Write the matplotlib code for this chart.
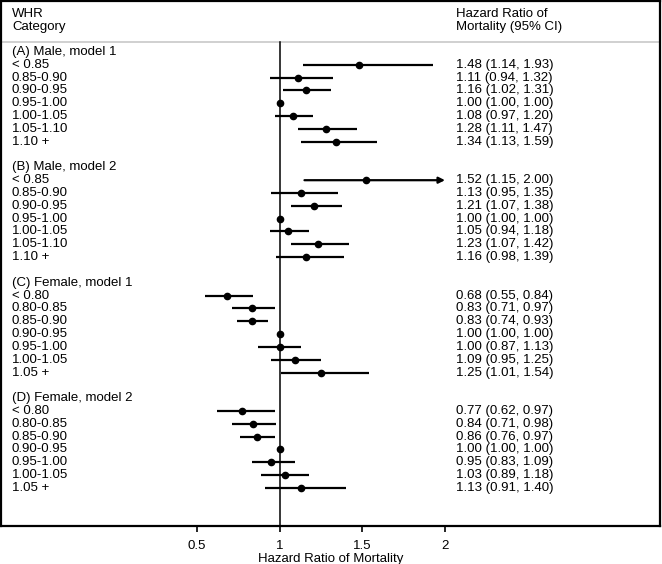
import matplotlib
matplotlib.use("Agg")
import matplotlib.pyplot as plt
import matplotlib.transforms as mtransforms

plt.rcParams['font.family'] = ['Liberation Sans', 'DejaVu Sans']

groups = ["(A) Male, model 1", "(B) Male, model 2", "(C) Female, model 1", "(D) Female, model 2"]
cats_male = ["< 0.85", "0.85-0.90", "0.90-0.95", "0.95-1.00", "1.00-1.05", "1.05-1.10", "1.10 +"]
cats_female = ["< 0.80", "0.80-0.85", "0.85-0.90", "0.90-0.95", "0.95-1.00", "1.00-1.05", "1.05 +"]
categories = [cats_male, cats_male, cats_female, cats_female]

hr_a = [1.48, 1.11, 1.16, 1.00, 1.08, 1.28, 1.34]
lo_a = [1.14, 0.94, 1.02, 1.00, 0.97, 1.11, 1.13]
hi_a = [1.93, 1.32, 1.31, 1.00, 1.20, 1.47, 1.59]

hr_b = [1.52, 1.13, 1.21, 1.00, 1.05, 1.23, 1.16]
lo_b = [1.15, 0.95, 1.07, 1.00, 0.94, 1.07, 0.98]
hi_b = [2.00, 1.35, 1.38, 1.00, 1.18, 1.42, 1.39]

hr_c = [0.68, 0.83, 0.83, 1.00, 1.00, 1.09, 1.25]
lo_c = [0.55, 0.71, 0.74, 1.00, 0.87, 0.95, 1.01]
hi_c = [0.84, 0.97, 0.93, 1.00, 1.13, 1.25, 1.54]

hr_d = [0.77, 0.84, 0.86, 1.00, 0.95, 1.03, 1.13]
lo_d = [0.62, 0.71, 0.76, 1.00, 0.83, 0.89, 0.91]
hi_d = [0.97, 0.98, 0.97, 1.00, 1.09, 1.18, 1.40]

hrs = [hr_a, hr_b, hr_c, hr_d]
los = [lo_a, lo_b, lo_c, lo_d]
his = [hi_a, hi_b, hi_c, hi_d]

xticks = [0.5, 1, 1.5, 2]
xtick_labels = ["0.5", "1", "1.5", "2"]
x_max_ci = 2.0

W, H = 662, 564
fig = plt.figure(figsize=(W / 100, H / 100), dpi=100)

# frame in pixels: left 1, right 660, top 1, bottom 526
fl, fr, ft, fb = 1, 660, 1, 526
ax = fig.add_axes([fl / W, 1 - fb / H, (fr - fl) / W, (fb - ft) / H])

scale = (445 - 197) / 1.5
ax.set_xlim(0.5 - (197 - fl) / scale, 2 + (fr - 445) / scale)
row_px = 12.82
row0 = 52
ax.set_ylim((fb - row0) / row_px, (ft - row0) / row_px)

for s in ax.spines.values():
    s.set_linewidth(1.6)
    s.set_color('black')
ax.set_yticks([])
ax.set_xticks(xticks)
ax.set_xticklabels(xtick_labels, fontsize=9.5)
ax.tick_params(axis='x', direction='out', length=4, width=1.2, pad=6)
ax.set_xlabel("Hazard Ratio of Mortality", fontsize=9.5, labelpad=1)

trans = mtransforms.blended_transform_factory(ax.transAxes, ax.transData)
xl = (12 - fl) / (fr - fl)
xr = (456 - fl) / (fr - fl)
fs = 9.5

# header
y_h1 = (14 - row0) / row_px
y_h2 = (27 - row0) / row_px
y_line = (42 - row0) / row_px
ax.text(xl, y_h1, "WHR", transform=trans, fontsize=fs, va='center', ha='left')
ax.text(xl, y_h2, "Category", transform=trans, fontsize=fs, va='center', ha='left')
ax.text(xr, y_h1, "Hazard Ratio of", transform=trans, fontsize=fs, va='center', ha='left')
ax.text(xr, y_h2, "Mortality (95% CI)", transform=trans, fontsize=fs, va='center', ha='left')
ax.axhline(y_line, color='#c8c8c8', lw=1.2, zorder=1)

ybottom = ax.get_ylim()[0]
ax.plot([1, 1], [y_line, ybottom], color='black', lw=1.1, zorder=2)

row = 0
for g, name in enumerate(groups):
    ax.text(xl, row, name, transform=trans, fontsize=fs, va='center', ha='left')
    row += 1
    for i, cat in enumerate(categories[g]):
        hr, lo, hi = hrs[g][i], los[g][i], his[g][i]
        ax.text(xl, row, cat, transform=trans, fontsize=fs, va='center', ha='left')
        ax.text(xr, row, f"{hr:.2f} ({lo:.2f}, {hi:.2f})", transform=trans,
                fontsize=fs, va='center', ha='left')
        if hi >= x_max_ci and hi > lo:
            ax.annotate("", xy=(hi, row), xytext=(lo, row),
                        arrowprops=dict(arrowstyle='-|>', color='black', lw=1.6,
                                        mutation_scale=9, shrinkA=0, shrinkB=0),
                        zorder=3)
        else:
            ax.plot([lo, hi], [row, row], color='black', lw=1.6, solid_capstyle='butt', zorder=3)
        ax.plot([hr], [row], marker='o', color='black', markersize=4.5, zorder=4)
        row += 1
    row += 1

fig.savefig("out.png", dpi=100)
